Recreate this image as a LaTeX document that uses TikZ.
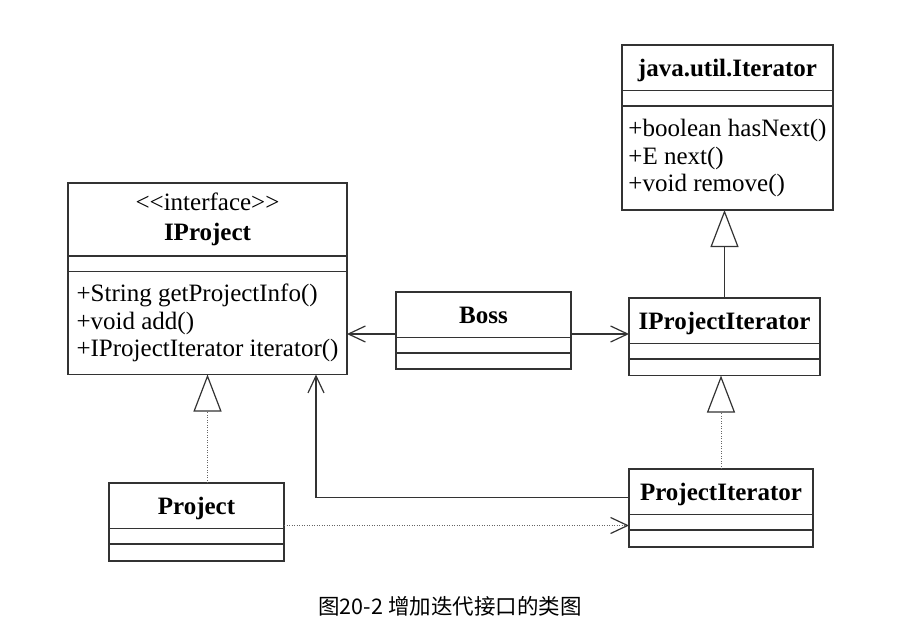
\documentclass[tikz,border=0pt]{standalone}
\usepackage{fontspec}
\setmainfont{Liberation Serif}
\newfontfamily\cjk{Noto Sans CJK SC}
\usetikzlibrary{positioning,arrows.meta}
\newcommand\umlfont{\fontsize{25}{27.5}\selectfont}

\begin{document}
\begin{tikzpicture}[x=1pt,y=-1pt,font=\umlfont]
		\tikzset{klass/.style={draw=black!80,line width=1.2pt,outer sep=0pt,inner sep=0pt,minimum width=#1}};
		\tikzset{head/.style={klass=#1,anchor=north,minimum height=45.5pt,font=\umlfont\bfseries,text height=18pt,text depth=0pt}};
		\tikzset{slot/.style={klass=#1,minimum height=15.5pt}};
		\tikzset{ops/.style={klass=#1,minimum height=104pt,align=left}};
		\tikzset{extend/.style={draw=black!80,line width=1.2pt,-{Triangle[open,length=37pt,width=28pt]}}};
		\tikzset{realize/.style={draw=black!60,line width=0.9pt,dash pattern=on 1pt off 1.5pt,
				-{Triangle[open,length=37pt,width=28pt,line width=1.2pt,color=black!80]}}};
		\tikzset{assoc/.style={draw=black!80,line width=1.2pt,-{Straight Barb[length=17pt,width=16pt]}}};
		\tikzset{depend/.style={draw=black!60,line width=0.9pt,dash pattern=on 1pt off 1.5pt,
				-{Straight Barb[length=17pt,width=16pt,line width=1.2pt,color=black!80]}}};
		
		\useasboundingbox (0,0) rectangle (910,642);
		
		% classes
		\node[klass=279,anchor=north,minimum height=73pt,align=center,font=\fontsize{25}{30}\selectfont] (iproj-t) at (207.5,183) {<{}<interface>{}>\\\textbf{IProject}};
		\node[slot=279,below=0pt of iproj-t] (iproj-a) {};
		\node[ops=279,below=0pt of iproj-a,minimum height=103pt] (iproj-o) {+String getProjectInfo()\\+void add()\\+IProjectIterator iterator()};
		
		\node[head=211] (iter-t) at (727.5,45) {java.util.Iterator};
		\node[slot=211,below=0pt of iter-t] (iter-a) {};
		\node[ops=211,below=0pt of iter-a] (iter-o) {+boolean hasNext()\\+E next()\\+void remove()};
		
		\node[head=175] (boss-t) at (483.5,292) {Boss};
		\node[slot=175,below=0pt of boss-t] (boss-a) {};
		\node[slot=175,below=0pt of boss-a,minimum height=16pt] (boss-o) {};
		
		\node[head=191] (ipi-t) at (724.5,298) {IProjectIterator};
		\node[slot=191,below=0pt of ipi-t] (ipi-a) {};
		\node[slot=191,below=0pt of ipi-a,minimum height=16.5pt] (ipi-o) {};
		
		\node[head=184] (pi-t) at (721,469) {ProjectIterator};
		\node[slot=184,below=0pt of pi-t] (pi-a) {};
		\node[slot=184,below=0pt of pi-a,minimum height=17pt] (pi-o) {};
		
		\node[head=175] (project-t) at (196.5,483) {Project};
		\node[slot=175,below=0pt of project-t] (project-a) {};
		\node[slot=175,below=0pt of project-a,minimum height=17pt] (project-o) {};
		
		% relations
		\draw[extend] (ipi-t.north) -- (ipi-t.north |- iter-o.south);
		\draw[realize] (pi-t.north) -- (pi-t.north |- ipi-o.south);
		\draw[realize] (project-t.north -| iproj-o.south) -- (iproj-o.south);
		\coordinate (bl) at ([yshift=3.5pt]boss-t.south west);
		\coordinate (br) at ([yshift=3.5pt]boss-t.south east);
		\draw[assoc] (bl) -- (bl -| iproj-o.east);
		\draw[assoc] (br) -- (br -| ipi-t.west);
		\draw[assoc] ([yshift=-5.5pt]pi-t.west) -| ([xshift=-31pt]iproj-o.south east);
		\coordinate (dep) at ([yshift=3pt]project-t.south east);
		\draw[depend] (dep) -- (dep -| pi-t.west);
		
		\node[font=\cjk\fontsize{21.5}{24}\selectfont] (caption) at (450,606) {图20-2 增加迭代接口的类图};
\end{tikzpicture}
\end{document}
